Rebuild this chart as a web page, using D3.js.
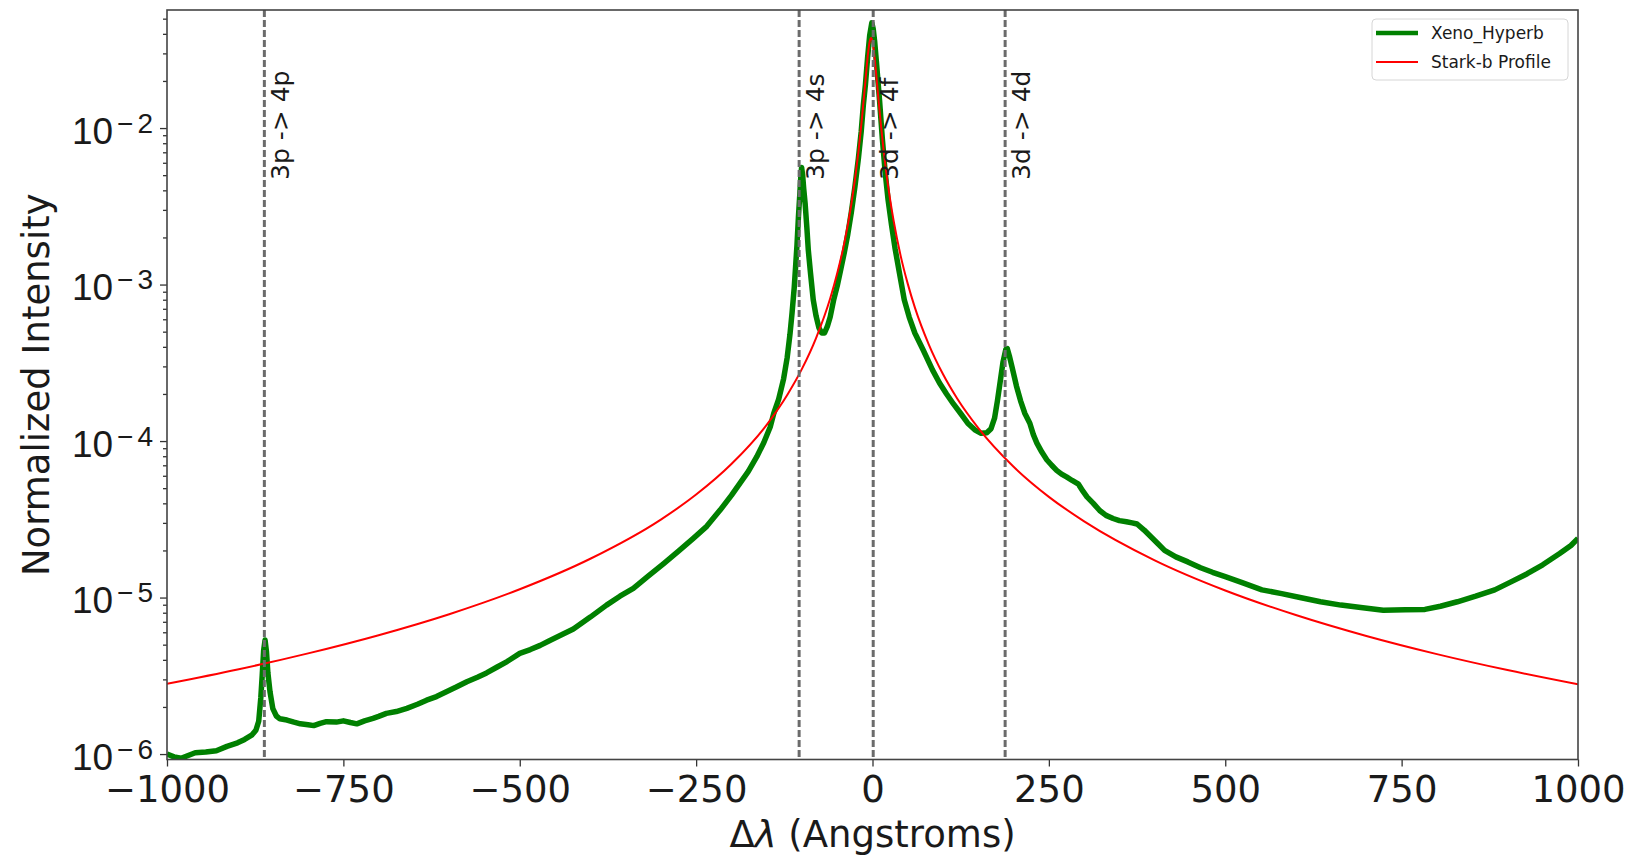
<!DOCTYPE html>
<html>
<head>
<meta charset="utf-8">
<script src="https://cdn.jsdelivr.net/npm/d3@7"></script>
<style>
  html, body { margin: 0; background: #fff; }
  svg { display: block; font-family: "DejaVu Sans", sans-serif; }
</style>
</head>
<body>
<svg id="chart" width="1627" height="858"></svg>
<script>
const greenX = [-1000,-990,-980,-970,-960,-945,-930,-915,-900,-890,-880,-874,-870,-867,-865,-863,-861,-859,-857,-854,-850,-845,-840,-830,-820,-811,-800,-792,-783,-774,-760,-750,-740,-731,-720,-708,-700,-689,-675,-660,-645,-632,-618,-604,-590,-575,-560,-547,-532,-518,-500,-485,-471,-458,-445,-424,-400,-377,-358,-339,-318,-296,-275,-254,-235,-216,-200,-188,-176,-164,-154,-145,-140,-133,-126,-121,-117,-114,-111,-109,-107,-105,-103,-101.5,-100.5,-99,-97.5,-95.5,-93,-91,-88,-84,-80,-76,-72,-68,-64,-60,-55,-50,-45,-40,-35,-30,-25,-20,-16,-13,-10,-7,-4,-1,1,3,6,10,14,18,22,27,32,38,45,52,60,72,85,95,105,115,125,135,145,154,162,168,173,177,181,185,189,191,194,198,204,210,216,223,228,233,240,247,254,261,268,275,283,292,298,304,313,322,331,341,350,360,368,375,385,395,405,414,430,447,465,482,500,525,552,580,606,635,664,695,724,755,783,805,829,855,882,905,928,950,974,990,1000];
const greenY = [1.0e-6,9.6e-7,9.4e-7,9.8e-7,1.02e-6,1.03e-6,1.05e-6,1.12e-6,1.18e-6,1.24e-6,1.32e-6,1.42e-6,1.62e-6,2.3e-6,3.2e-6,4.6e-6,5.35e-6,4.5e-6,3.3e-6,2.5e-6,1.95e-6,1.75e-6,1.68e-6,1.65e-6,1.6e-6,1.56e-6,1.54e-6,1.52e-6,1.57e-6,1.61e-6,1.6e-6,1.63e-6,1.59e-6,1.56e-6,1.63e-6,1.69e-6,1.74e-6,1.82e-6,1.87e-6,1.96e-6,2.08e-6,2.21e-6,2.33e-6,2.5e-6,2.68e-6,2.9e-6,3.1e-6,3.3e-6,3.6e-6,3.9e-6,4.4e-6,4.65e-6,4.95e-6,5.3e-6,5.65e-6,6.3e-6,7.5e-6,8.95e-6,1.02e-5,1.145e-5,1.37e-5,1.65e-5,1.98e-5,2.39e-5,2.85e-5,3.62e-5,4.5e-5,5.37e-5,6.4e-5,7.94e-5,9.8e-5,1.23e-4,1.5e-4,1.85e-4,2.5e-4,3.4e-4,4.8e-4,6.6e-4,9.5e-4,1.3e-3,1.8e-3,2.7e-3,3.8e-3,5.0e-3,5.6e-3,5.0e-3,4.1e-3,3.3e-3,2.3e-3,1.66e-3,1.2e-3,8.0e-4,6.3e-4,5.3e-4,4.9e-4,4.9e-4,5.4e-4,6.2e-4,8.0e-4,9.8e-4,1.25e-3,1.6e-3,2.1e-3,2.9e-3,4.2e-3,6.4e-3,9.5e-3,1.4e-2,1.9e-2,2.8e-2,3.9e-2,4.7e-2,4.3e-2,3.6e-2,2.5e-2,1.5e-2,8.5e-3,5.2e-3,3.5e-3,2.4e-3,1.7e-3,1.2e-3,8.0e-4,6.2e-4,4.9e-4,3.8e-4,2.85e-4,2.35e-4,2.0e-4,1.72e-4,1.5e-4,1.3e-4,1.18e-4,1.12e-4,1.13e-4,1.2e-4,1.4e-4,1.8e-4,2.4e-4,3.2e-4,3.85e-4,3.9e-4,3.5e-4,2.95e-4,2.25e-4,1.8e-4,1.5e-4,1.3e-4,1.1e-4,9.7e-5,8.5e-5,7.6e-5,7.0e-5,6.5e-5,6.15e-5,5.9e-5,5.6e-5,5.3e-5,4.8e-5,4.4e-5,4.0e-5,3.6e-5,3.35e-5,3.2e-5,3.1e-5,3.05e-5,3.0e-5,2.95e-5,2.7e-5,2.44e-5,2.2e-5,2.0e-5,1.82e-5,1.69e-5,1.55e-5,1.45e-5,1.36e-5,1.24e-5,1.12e-5,1.06e-5,1.0e-5,9.4e-6,8.95e-6,8.6e-6,8.3e-6,8.35e-6,8.4e-6,8.8e-6,9.4e-6,1.02e-5,1.12e-5,1.26e-5,1.42e-5,1.62e-5,1.91e-5,2.15e-5,2.39e-5];

// Stark-b profile
const starkX = [-1000,-900,-800,-700,-600,-500,-400,-300,-250,-200,-150,-120,-100,-80,-60,-50,-40,-30,-20,-15,-10,-6,-4,-2,0,2,5,8,12,16,20,25,30,40,50,60,80,100,120,150,200,250,300,400,500,600,700,800,900,1000];
const starkY = [2.81e-6,3.47e-6,4.40e-6,5.75e-6,7.83e-6,1.13e-5,1.77e-5,3.15e-5,4.55e-5,7.13e-5,1.27e-4,2.0e-4,2.89e-4,4.55e-4,8.14e-4,1.18e-3,1.84e-3,3.26e-3,7.02e-3,1.15e-2,2.01e-2,3.09e-2,3.57e-2,3.76e-2,3.57e-2,3.09e-2,2.27e-2,1.6e-2,1.04e-2,7.03e-3,5.01e-3,3.49e-3,2.55e-3,1.52e-3,1.01e-3,7.15e-4,4.12e-4,2.67e-4,1.87e-4,1.21e-4,6.85e-5,4.4e-5,3.07e-5,1.73e-5,1.11e-5,7.73e-6,5.68e-6,4.35e-6,3.44e-6,2.79e-6];

const transitionPos = [-862, -104, 1, 188];
const transitionLabels = ["3p -> 4p", "3p -> 4s", "3d -> 4f", "3d -> 4d"];

const xTicks = [-1000, -750, -500, -250, 0, 250, 500, 750, 1000];
const yTicks = [1e-6, 1e-5, 1e-4, 1e-3, 1e-2];
const xLimits = [-1000, 1000];
const yLimits = [9.23e-7, 5.68e-2];

const seriesNames = ["Xeno_Hyperb", "Stark-b Profile"];
const seriesColors = ["#008000", "#ff0000"];

// layout
const margin = {left: 167, top: 10, right: 49, bottom: 98.5};
const W = 1627, H = 858;
const iw = W - margin.left - margin.right;
const ih = H - margin.top - margin.bottom;

const svg = d3.select('#chart');
const g = svg.append('g').attr('transform', `translate(${margin.left},${margin.top})`);

const x = d3.scaleLinear().domain(xLimits).range([0, iw]);
const y = d3.scaleLog().domain(yLimits).range([ih, 0]);

svg.append('defs').append('clipPath').attr('id', 'clip')
  .append('rect').attr('width', iw).attr('height', ih);

const plot = g.append('g').attr('clip-path', 'url(#clip)');

const line = d3.line().x(d => x(d[0])).y(d => y(d[1]));

const green = d3.zip(greenX, greenY);
const stark = d3.zip(starkX, starkY);

plot.append('path').datum(green)
  .attr('d', line)
  .attr('fill', 'none')
  .attr('stroke', seriesColors[0])
  .attr('stroke-width', 5.5)
  .attr('stroke-linejoin', 'round');

plot.append('path').datum(stark)
  .attr('d', line.curve(d3.curveMonotoneX))
  .attr('fill', 'none')
  .attr('stroke', seriesColors[1])
  .attr('stroke-width', 2);

// transition markers
plot.selectAll('line.vl').data(transitionPos).join('line')
  .attr('class', 'vl')
  .attr('x1', d => x(d)).attr('x2', d => x(d))
  .attr('y1', 0).attr('y2', ih)
  .attr('stroke', '#6b6b6b')
  .attr('stroke-width', 3)
  .attr('stroke-dasharray', '7,3');

g.selectAll('text.vlabel').data(transitionPos).join('text')
  .attr('class', 'vlabel')
  .attr('transform', d => `translate(${x(d) + 25},${170}) rotate(-90)`)
  .attr('font-size', 25)
  .attr('fill', '#1a1a1a')
  .text((d, i) => transitionLabels[i]);

// axes
const xAxis = g.append('g').attr('transform', `translate(0,${ih})`)
  .call(d3.axisBottom(x).tickValues(xTicks).tickSize(7).tickPadding(9).tickFormat(d3.format('d')));
xAxis.selectAll('text').attr('font-size', 37).attr('fill', '#1a1a1a').attr('font-family', '"DejaVu Sans", sans-serif');

const minorY = [];
for (let e = -7; e <= -2; e++) for (let m = 2; m <= 9; m++) {
  const v = m * Math.pow(10, e);
  if (v >= yLimits[0] && v <= yLimits[1]) minorY.push(v);
}
g.append('g').call(d3.axisLeft(y).tickValues(minorY).tickSize(4).tickFormat(''))
  .call(s => s.select('.domain').remove());

const yAxis = g.append('g')
  .call(d3.axisLeft(y).tickValues(yTicks).tickSize(7).tickFormat(''));
yAxis.selectAll('.tick').each(function(d) {
  const t = d3.select(this).append('text')
    .attr('x', -14).attr('y', 15)
    .attr('text-anchor', 'end')
    .attr('fill', '#1a1a1a')
    .attr('font-size', 37);
  t.append('tspan').text('10');
  t.append('tspan').attr('dy', -11).attr('dx', 4).attr('font-size', 28).text('\u2212');
  t.append('tspan').attr('dx', 4).attr('font-size', 28).text(Math.round(-Math.log10(d)));
});

g.selectAll('.tick line').attr('stroke', '#333').attr('stroke-width', 1.3);
g.selectAll('.domain').attr('stroke', 'none');

// frame
g.append('rect').attr('width', iw).attr('height', ih)
  .attr('fill', 'none').attr('stroke', '#444').attr('stroke-width', 1.6);

// axis labels
const xl = svg.append('text')
  .attr('x', margin.left + iw / 2).attr('y', 847)
  .attr('text-anchor', 'middle').attr('font-size', 37).attr('fill', '#1a1a1a');
xl.append('tspan').text('\u0394');
xl.append('tspan').attr('font-style', 'italic').text('\u03bb');
xl.append('tspan').text(' (Angstroms)');

svg.append('text')
  .attr('transform', `translate(49,${margin.top + ih / 2}) rotate(-90)`)
  .attr('text-anchor', 'middle').attr('font-size', 37).attr('fill', '#1a1a1a')
  .text('Normalized Intensity');

// legend
const lg = svg.append('g').attr('transform', 'translate(1372,19)');
lg.append('rect').attr('width', 196).attr('height', 61).attr('rx', 4)
  .attr('fill', '#fff').attr('fill-opacity', 0.8)
  .attr('stroke', '#d6d6d6').attr('stroke-width', 1);
const widths = [4.5, 2];
seriesNames.forEach((name, i) => {
  const yy = 14 + i * 29;
  lg.append('line').attr('x1', 4).attr('x2', 46).attr('y1', yy).attr('y2', yy)
    .attr('stroke', seriesColors[i]).attr('stroke-width', widths[i]);
  lg.append('text').attr('x', 59).attr('y', yy + 6)
    .attr('font-size', 17).attr('fill', '#1a1a1a').text(name);
});
</script>
</body>
</html>
